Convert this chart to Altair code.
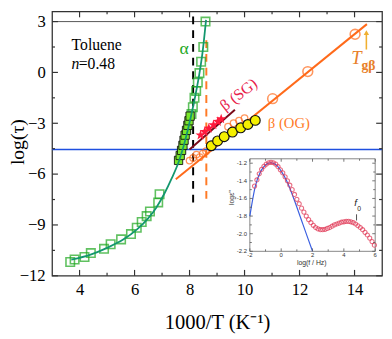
import altair as alt
import pandas as pd

# ---------------- main panel data ----------------
alpha_x = [3.66, 3.82, 4.18, 4.41, 4.89, 5.13, 5.51, 5.87, 6.08, 6.26, 6.44, 6.56, 6.86, 6.91,
           8.07, 8.12, 8.18, 8.24, 8.30, 8.36, 8.42, 8.50, 8.58]
alpha_y = [-11.19, -11.04, -10.89, -10.66, -10.41, -10.14, -9.85, -9.54, -9.17, -8.83, -8.48, -8.21, -7.67, -7.19,
           -2.45, -2.05, -1.5, -1.1, -0.6, -0.04, 0.63, 1.5, 3.0]
filled_x = [7.60, 7.66, 7.71, 7.76, 7.80, 7.84, 7.89, 7.94, 7.98, 8.02]
filled_y = [-5.19, -4.9, -4.6, -4.3, -4.0, -3.7, -3.42, -3.12, -2.85, -2.58]
vft_x = [3.7, 4.4, 5.0, 5.6, 6.1, 6.5, 6.8, 7.1, 7.35, 7.6, 7.85, 8.05, 8.2, 8.35, 8.47, 8.6]
vft_y = [-11.05, -10.75, -10.35, -9.85, -9.25, -8.6, -7.95, -7.1, -6.25, -5.3, -3.95, -2.6, -1.45, -0.15, 1.15, 3.1]
og_big_x = [11.02, 12.3, 14.02]
og_big_y = [-1.55, 0.05, 2.25]
og_small_x = [8.0, 8.13, 8.25, 8.37, 8.48, 8.6, 9.4, 9.6, 9.8, 10.0]
og_small_y = [-5.2, -5.05, -4.85, -5.0, -4.8, -4.65, -3.2, -3.0, -2.85, -2.7]
og_line_x = [7.5, 14.45]
og_line_y = [-6.3, 2.85]
yellow_x = [8.79, 9.02, 9.26, 9.56, 9.86, 10.12, 10.39]
yellow_y = [-4.33, -4.04, -3.79, -3.52, -3.27, -3.07, -2.83]
sg_x = [8.4, 8.55, 8.7, 8.87, 9.03, 9.15]
sg_y = [-3.7, -3.5, -3.3, -3.1, -2.9, -2.75]
sg_line_x = [8.0, 9.65]
sg_line_y = [-4.55, -2.2]
tau_line = [-4.55]
top_line = [3.0]
black_dash = [8.13, 3.3, -7.8]
orange_dash = [8.61, 1.9, -7.8]

x_major = [4, 6, 8, 10, 12, 14]
x_minor = [5, 7, 9, 11, 13]
y_major = [-12, -9, -6, -3, 0, 3]
y_minor = [-10.5, -7.5, -4.5, -1.5, 1.5]

# ---------------- inset data ----------------
eps_x = [-1.70, -1.55, -1.40, -1.25, -1.10, -0.95, -0.80, -0.65, -0.50, -0.35, -0.20, -0.05,
         0.10, 0.25, 0.40, 0.55, 0.70, 0.85, 1.00, 1.15, 1.30, 1.45, 1.60, 1.75, 1.90, 2.05,
         2.20, 2.35, 2.50, 2.65, 2.80, 2.95, 3.10, 3.25, 3.40, 3.55, 3.70, 3.85, 4.00, 4.15,
         4.30, 4.45, 4.60, 4.75, 4.90, 5.05, 5.20, 5.35, 5.50, 5.65, 5.80, 5.95]
eps_y = [-1.46, -1.39, -1.32, -1.27, -1.235, -1.21, -1.195, -1.19, -1.195, -1.21, -1.24, -1.275,
         -1.31, -1.355, -1.40, -1.45, -1.50, -1.555, -1.61, -1.66, -1.71, -1.755, -1.80, -1.84, -1.875, -1.905,
         -1.93, -1.945, -1.955, -1.955, -1.95, -1.94, -1.93, -1.915, -1.90, -1.89, -1.88, -1.87, -1.865, -1.86,
         -1.86, -1.865, -1.875, -1.89, -1.91, -1.93, -1.955, -1.985, -2.015, -2.05, -2.09, -2.13]
fit_x = [-2.0, -1.65, -1.3, -1.0, -0.7, -0.4, 0.0, 0.4, 0.8, 1.4, 2.0]
fit_y = [-1.80, -1.46, -1.29, -1.22, -1.195, -1.21, -1.29, -1.42, -1.60, -1.90, -2.2]
in_x_labels = [-2, 0, 2, 4, 6]
in_x_ticks = [-1, 1, 3, 5]
in_y_labels = [-2.2, -2.0, -1.8, -1.6, -1.4, -1.2]
in_y_minor = [-2.1, -1.9, -1.7, -1.5, -1.3]

W, H = 337, 270
SERIF = "Liberation Serif"
SANS = "Liberation Sans"

xs = alt.Scale(domain=[3, 15], nice=False, zero=False)
ys = alt.Scale(domain=[-12, 3.6], nice=False, zero=False)
xaxis = alt.Axis(values=x_major, ticks=False, domain=False, grid=False, labelFont=SERIF,
                 labelFontSize=17, labelColor="black", labelPadding=6, title="1000/T  (K\u207b\u00b9)",
                 titleFont=SERIF, titleFontSize=21, titleFontWeight="normal", titleColor="black",
                 titlePadding=15)
yaxis = alt.Axis(values=y_major, ticks=False, domain=False, grid=False, labelFont=SERIF,
                 labelFontSize=17, labelColor="black", labelPadding=7, title="log(\u03c4)",
                 titleFont=SERIF, titleFontSize=20, titleFontWeight="normal", titleColor="black",
                 titleX=-35, titleY=133, titleAngle=270, titleAlign="center", titleBaseline="middle")


def X(f="x"):
    return alt.X(f + ":Q", scale=xs, axis=xaxis)


def Y(f="y"):
    return alt.Y(f + ":Q", scale=ys, axis=yaxis)


def df(x, y):
    return pd.DataFrame({"x": x, "y": y})


layers = []
# horizontal reference lines
layers.append(alt.Chart(pd.DataFrame({"y": top_line})).mark_rule(color="#555", strokeWidth=1).encode(y=Y()))
layers.append(alt.Chart(pd.DataFrame({"y": tau_line})).mark_rule(color="#1f4fe0", strokeWidth=1.6).encode(y=Y()))
# dashed verticals
layers.append(alt.Chart(pd.DataFrame({"x": [black_dash[0]], "y": [black_dash[1]], "y2": [black_dash[2]]}))
              .mark_rule(color="black", strokeWidth=2, strokeDash=[8, 6]).encode(x=X(), y=Y(), y2="y2:Q"))
layers.append(alt.Chart(pd.DataFrame({"x": [orange_dash[0]], "y": [orange_dash[1]], "y2": [orange_dash[2]]}))
              .mark_rule(color="#ff7a26", strokeWidth=2, strokeDash=[8, 6]).encode(x=X(), y=Y(), y2="y2:Q"))
# orange OG line
layers.append(alt.Chart(df(og_line_x, og_line_y)).mark_line(color="#ff6a1a", strokeWidth=2).encode(x=X(), y=Y()))
# SG line
layers.append(alt.Chart(df(sg_line_x, sg_line_y)).mark_line(color="#7a0a1a", strokeWidth=2).encode(x=X(), y=Y()))
# alpha open squares
layers.append(alt.Chart(df(alpha_x, alpha_y)).mark_point(shape="square", size=75, color="#1ea81e",
                                                         strokeWidth=1.6, filled=False).encode(x=X(), y=Y()))
# filled squares
layers.append(alt.Chart(df(filled_x, filled_y)).mark_point(shape="square", size=72, fill="#7ae62a", stroke="#111",
                                                           strokeWidth=0.9, filled=True, opacity=1).encode(x=X(), y=Y()))
# VFT line
layers.append(alt.Chart(df(vft_x, vft_y)).mark_line(color="#13976e", strokeWidth=1.8, interpolate="monotone")
              .encode(x=X(), y=Y()))
# orange small circles
layers.append(alt.Chart(df(og_small_x, og_small_y)).mark_point(shape="circle", size=45, color="#ff6a1a",
                                                               strokeWidth=1.3, filled=False).encode(x=X(), y=Y()))
# yellow circles
layers.append(alt.Chart(df(yellow_x, yellow_y)).mark_point(shape="circle", size=100, fill="#f5f000", stroke="#111",
                                                           strokeWidth=1.2, filled=True, opacity=1).encode(x=X(), y=Y()))
# red stars
star = "M0,-1L0.235,-0.324L0.951,-0.309L0.380,0.124L0.588,0.809L0,0.4L-0.588,0.809L-0.380,0.124L-0.951,-0.309L-0.235,-0.324Z"
layers.append(alt.Chart(df(sg_x, sg_y)).mark_point(shape=star, size=120, color="#ff1a3c", filled=True, opacity=1)
              .encode(x=X(), y=Y()))
# orange big circles
layers.append(alt.Chart(df(og_big_x, og_big_y)).mark_point(shape="circle", size=100, color="#ff6a1a",
                                                           strokeWidth=1.6, filled=False).encode(x=X(), y=Y()))


# text labels
def label(x, y, text, color, size, style="normal", weight="normal", align="left", angle=0, font=SERIF):
    kw = dict(color=color, fontSize=size, font=font, fontStyle=style, fontWeight=weight, align=align,
              baseline="middle")
    if angle:
        kw["angle"] = angle
    return alt.Chart(pd.DataFrame({"x": [x], "y": [y], "t": [text]})).mark_text(**kw).encode(
        x=X(), y=Y(), text="t:N")


layers.append(label(3.71, 1.64, "Toluene", "black", 16))
layers.append(label(3.71, 0.48, "n", "black", 16, style="italic"))
layers.append(label(3.97, 0.48, "=0.48", "black", 16))
layers.append(label(7.8, 1.35, "\u03b1", "#1ea81e", 18, align="center"))
layers.append(label(9.79, -1.31, "\u03b2 (SG)", "#e8204a", 16, align="center", angle=322))
layers.append(label(11.61, -2.97, "\u03b2 (OG)", "#ff7a26", 15, align="center"))
layers.append(label(14.07, 0.83, "T", "#e8802a", 19, style="italic", align="center"))
layers.append(label(14.25, 0.38, "g\u03b2", "#e8802a", 14, weight="bold"))
# arrow
layers.append(alt.Chart(pd.DataFrame({"x": [14.43], "y": [1.35], "y2": [2.3]})).mark_rule(
    color="#f0b030", strokeWidth=1.6).encode(x=X(), y=Y(), y2="y2:Q"))
layers.append(alt.Chart(pd.DataFrame({"x": [14.43], "y": [2.35]})).mark_point(
    shape="triangle-up", size=30, color="#f0b030", filled=True, opacity=1).encode(x=X(), y=Y()))


# mirrored inward ticks
def xticks(vals, ln):
    d = pd.DataFrame({"x": vals})
    b = alt.Chart(d).mark_rule(color="#333", strokeWidth=1.2).encode(x=X(), y=alt.value(H), y2=alt.value(H - ln))
    t = alt.Chart(d).mark_rule(color="#333", strokeWidth=1.2).encode(x=X(), y=alt.value(0), y2=alt.value(ln))
    return [b, t]


def yticks(vals, ln):
    d = pd.DataFrame({"y": vals})
    l = alt.Chart(d).mark_rule(color="#333", strokeWidth=1.2).encode(y=Y(), x=alt.value(0), x2=alt.value(ln))
    r = alt.Chart(d).mark_rule(color="#333", strokeWidth=1.2).encode(y=Y(), x=alt.value(W), x2=alt.value(W - ln))
    return [l, r]


layers += xticks(x_major, 6) + xticks(x_minor, 3) + yticks(y_major, 6) + yticks(y_minor, 3)

main = alt.layer(*layers)

# ---------------- inset ----------------
ixs = alt.Scale(domain=[-2, 6], range=[202, 330], nice=False, zero=False)
iys = alt.Scale(domain=[-2.2, -1.15], range=[245, 150.5], nice=False, zero=False)


def IX(f="x"):
    return alt.X(f + ":Q", scale=ixs, axis=None)


def IY(f="y"):
    return alt.Y(f + ":Q", scale=iys, axis=None)


ilayers = []
ilayers.append(alt.Chart(pd.DataFrame({"x": [-2], "x2": [6], "y": [-2.2], "y2": [-1.15]})).mark_rect(
    fill="white", stroke="#666", strokeWidth=0.8).encode(x=IX(), x2="x2:Q", y=IY(), y2="y2:Q"))
ilayers.append(alt.Chart(df(fit_x, fit_y)).mark_line(color="#3a5fe0", strokeWidth=1.2, interpolate="monotone")
               .encode(x=IX(), y=IY()))
ilayers.append(alt.Chart(df(eps_x, eps_y)).mark_point(shape="circle", size=18, color="#e0304f", strokeWidth=1.1,
                                                       filled=False).encode(x=IX(), y=IY()))
# inset ticks
for vals, ln in [(in_x_labels, 3), (in_x_ticks, 2)]:
    d = pd.DataFrame({"x": vals})
    ilayers.append(alt.Chart(d).mark_rule(color="#555", strokeWidth=0.8).encode(
        x=IX(), y=alt.value(245), y2=alt.value(245 - ln)))
    ilayers.append(alt.Chart(d).mark_rule(color="#555", strokeWidth=0.8).encode(
        x=IX(), y=alt.value(150.5), y2=alt.value(150.5 + ln)))
for vals, ln in [(in_y_labels, 3), (in_y_minor, 2)]:
    d = pd.DataFrame({"y": vals})
    ilayers.append(alt.Chart(d).mark_rule(color="#555", strokeWidth=0.8).encode(
        y=IY(), x=alt.value(202), x2=alt.value(202 + ln)))
    ilayers.append(alt.Chart(d).mark_rule(color="#555", strokeWidth=0.8).encode(
        y=IY(), x=alt.value(330), x2=alt.value(330 - ln)))
ilayers.append(alt.Chart(pd.DataFrame({"x": in_x_labels, "t": [str(v) for v in in_x_labels]})).mark_text(
    font=SANS, fontSize=6, color="#333", baseline="top").encode(x=IX(), y=alt.value(246), text="t:N"))
ilayers.append(alt.Chart(pd.DataFrame({"y": in_y_labels, "t": ["%.1f" % v for v in in_y_labels]})).mark_text(
    font=SANS, fontSize=6, color="#333", align="right", baseline="middle").encode(
    y=IY(), x=alt.value(199), text="t:N"))
ilayers.append(alt.Chart(pd.DataFrame({"x": [1.95], "y": [-2.335], "t": ["log(f / Hz)"]})).mark_text(
    font=SANS, fontSize=7, color="#333", baseline="middle").encode(x=IX(), y=IY(), text="t:N"))
ilayers.append(alt.Chart(pd.DataFrame({"x": [-3.12], "y": [-1.59], "t": ["log\u03b5''"]})).mark_text(
    font=SANS, fontSize=7, color="#333", baseline="middle", angle=270).encode(x=IX(), y=IY(), text="t:N"))
ilayers.append(alt.Chart(pd.DataFrame({"x": [4.75], "y": [-1.656], "t": ["f"]})).mark_text(
    font=SANS, fontSize=10, fontStyle="italic", color="#222", baseline="middle", align="center").encode(
    x=IX(), y=IY(), text="t:N"))
ilayers.append(alt.Chart(pd.DataFrame({"x": [4.97], "y": [-1.725], "t": ["0"]})).mark_text(
    font=SANS, fontSize=7, color="#222", baseline="middle", align="center").encode(
    x=IX(), y=IY(), text="t:N"))
ilayers.append(alt.Chart(pd.DataFrame({"x": [4.81], "y": [-1.78], "y2": [-1.85]})).mark_rule(
    color="#222", strokeWidth=0.8).encode(x=IX(), y=IY(), y2="y2:Q"))

inset = alt.layer(*ilayers)

chart = alt.layer(main, inset).resolve_scale(x="independent", y="independent").properties(
    width=W, height=H, autosize="none", padding={"left": 45, "top": 0, "right": 2, "bottom": 58},
    background="white"
).configure_view(stroke="#333", strokeWidth=1.3)

chart.save("out.html", embed_options={"renderer": "svg", "actions": False})
